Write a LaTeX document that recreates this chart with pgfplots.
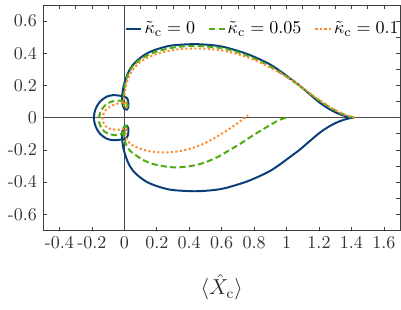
\documentclass[border=0pt]{standalone}
\usepackage{pgfplots}
\pgfplotsset{compat=1.18}
\definecolor{cblue}{RGB}{10,62,122}
\definecolor{cgreen}{RGB}{78,172,18}
\definecolor{corange}{RGB}{255,140,45}
\begin{document}
\begin{tikzpicture}
\useasboundingbox (-24pt,-44pt) rectangle (198.5pt,127.8pt);
\begin{axis}[
  scale only axis, width=198pt, height=125pt,
  xmin=-0.5, xmax=1.7, ymin=-0.7, ymax=0.7,
  axis line style={black!75, line width=0.5pt},
  tick align=inside, major tick length=2pt,
  tick style={black!75, line width=0.4pt},
  xtick={-0.4,-0.2,0,0.2,0.4,0.6,0.8,1,1.2,1.4,1.6},
  xticklabels={-0.4,-0.2,0,0.2,0.4,0.6,0.8,1,1.2,1.4,1.6},
  ytick={-0.6,-0.4,-0.2,0,0.2,0.4,0.6},
  yticklabels={-0.6,-0.4,-0.2,0,0.2,0.4,0.6},
  xtick pos=left, ytick pos=left,
  ticklabel style={text=black!80},
  xlabel={\large$\langle\hat{X}_\mathrm{c}\rangle$},
  xlabel style={yshift=-7pt, text=black!85},
  legend style={draw=none, fill=none, at={(axis description cs:0.228,0.895)}, anchor=west,
    legend columns=-1, font=\normalsize, inner sep=0pt, nodes={inner sep=1.2pt},
    /tikz/every even column/.append style={column sep=6pt}},
  legend image code/.code={\draw[#1] (0cm,0cm) -- (0.3cm,0cm);},
]
\draw[black!70, line width=0.5pt] (axis cs:0,-0.7) -- (axis cs:0,0.7);
\draw[black!70, line width=0.5pt] (axis cs:-0.5,0) -- (axis cs:1.7,0);
\addplot[cblue, line width=1.1pt, smooth, tension=0.5] coordinates {
(1.415,0) (1.39,0.003) (1.35,0.014) (1.30,0.034) (1.25,0.062) (1.20,0.097) (1.14,0.148) (1.08,0.20) (1.02,0.245) (0.96,0.29) (0.90,0.33) (0.83,0.365) (0.76,0.395) (0.70,0.415) (0.62,0.438) (0.55,0.450) (0.45,0.457) (0.37,0.455) (0.28,0.447) (0.20,0.425) (0.14,0.40) (0.09,0.365) (0.05,0.325) (0.025,0.283) (0.005,0.23) (-0.006,0.19) (-0.012,0.15) (-0.014,0.12) (-0.012,0.085) (0.0,0.055) (0.015,0.05) (0.025,0.07) (0.022,0.11) (0.005,0.13) (-0.03,0.137) (-0.07,0.14) (-0.11,0.13) (-0.15,0.10) (-0.177,0.055) (-0.188,0)
(-0.177,-0.055) (-0.15,-0.10) (-0.11,-0.13) (-0.07,-0.14) (-0.03,-0.137) (0.005,-0.13) (0.022,-0.11) (0.025,-0.07) (0.015,-0.05) (0.0,-0.055) (-0.012,-0.085) (-0.014,-0.12) (-0.012,-0.15) (-0.006,-0.19) (0.005,-0.23) (0.025,-0.283) (0.05,-0.325) (0.09,-0.365) (0.14,-0.40) (0.20,-0.425) (0.28,-0.447) (0.37,-0.455) (0.45,-0.457) (0.55,-0.450) (0.62,-0.438) (0.70,-0.415) (0.76,-0.395) (0.83,-0.365) (0.90,-0.33) (0.96,-0.29) (1.02,-0.245) (1.08,-0.20) (1.14,-0.148) (1.20,-0.097) (1.25,-0.062) (1.30,-0.034) (1.35,-0.014) (1.39,-0.003) (1.415,0)
};
\addlegendentry{$\tilde{\kappa}_\mathrm{c}=0$}
\addplot[cgreen, line width=1.1pt, dash pattern=on 3.4pt off 1.8pt, smooth, tension=0.5] coordinates {
(1.415,0) (1.37,0.012) (1.31,0.04) (1.25,0.075) (1.19,0.115) (1.13,0.16) (1.07,0.205) (1.00,0.255) (0.93,0.30) (0.85,0.345) (0.77,0.38) (0.69,0.41) (0.60,0.432) (0.50,0.443) (0.42,0.445) (0.33,0.44) (0.25,0.425) (0.17,0.40) (0.11,0.37) (0.06,0.33) (0.03,0.285) (0.01,0.23) (0.0,0.18) (-0.005,0.13) (-0.006,0.10) (0.0,0.065) (0.012,0.058) (0.02,0.075) (0.015,0.095) (-0.005,0.105) (-0.04,0.105) (-0.08,0.10) (-0.115,0.08) (-0.14,0.05) (-0.155,0.01) (-0.155,-0.03) (-0.14,-0.065) (-0.115,-0.092) (-0.08,-0.105) (-0.045,-0.108) (-0.015,-0.10) (0.008,-0.085) (0.015,-0.065) (0.008,-0.05) (-0.005,-0.06) (-0.008,-0.09) (0.0,-0.13) (0.012,-0.17) (0.035,-0.205) (0.076,-0.237) (0.12,-0.265) (0.178,-0.288) (0.25,-0.303) (0.322,-0.309) (0.40,-0.302) (0.466,-0.288) (0.53,-0.265) (0.589,-0.237) (0.65,-0.20) (0.712,-0.164) (0.77,-0.125) (0.835,-0.084) (0.917,-0.035) (0.965,-0.01) (1.0,0.0)
};
\addlegendentry{$\tilde{\kappa}_\mathrm{c}=0.05$}
\addplot[corange, line width=1.1pt, dash pattern=on 1.2pt off 1.3pt, smooth, tension=0.5] coordinates {
(1.42,0) (1.37,0.015) (1.30,0.048) (1.24,0.085) (1.18,0.125) (1.12,0.17) (1.06,0.215) (0.99,0.26) (0.92,0.30) (0.84,0.342) (0.76,0.375) (0.68,0.40) (0.59,0.42) (0.50,0.428) (0.42,0.43) (0.33,0.425) (0.25,0.41) (0.17,0.385) (0.11,0.355) (0.065,0.315) (0.035,0.27) (0.015,0.22) (0.005,0.17) (0.0,0.13) (0.0,0.095) (0.005,0.07) (0.012,0.065) (0.015,0.08) (0.008,0.095) (-0.01,0.095) (-0.035,0.09) (-0.06,0.082) (-0.09,0.068) (-0.112,0.05) (-0.13,0.02) (-0.134,-0.01) (-0.125,-0.04) (-0.105,-0.062) (-0.075,-0.072) (-0.04,-0.075) (-0.01,-0.07) (0.008,-0.065) (0.012,-0.08) (0.008,-0.1) (0.01,-0.125) (0.03,-0.155) (0.055,-0.174) (0.09,-0.19) (0.138,-0.205) (0.19,-0.213) (0.24,-0.216) (0.31,-0.212) (0.384,-0.199) (0.45,-0.178) (0.507,-0.153) (0.57,-0.118) (0.630,-0.081) (0.69,-0.04) (0.73,-0.01) (0.763,0.015)
};
\addlegendentry{$\tilde{\kappa}_\mathrm{c}=0.1$}
\end{axis}
\begin{axis}[
  scale only axis, width=198pt, height=125pt,
  xmin=-0.5, xmax=1.7, ymin=-0.7, ymax=0.7,
  axis line style={draw=none},
  tick align=inside, major tick length=2pt,
  tick style={black!75, line width=0.4pt},
  xtick={-0.4,-0.3,-0.2,-0.1,0,0.1,0.2,0.3,0.4,0.5,0.6,0.7,0.8,0.9,1,1.1,1.2,1.3,1.4,1.5,1.6},
  ytick={-0.6,-0.5,-0.4,-0.3,-0.2,-0.1,0,0.1,0.2,0.3,0.4,0.5,0.6},
  xticklabels={}, yticklabels={},
  xtick pos=right, ytick pos=right,
]
\end{axis}
\end{tikzpicture}
\end{document}
